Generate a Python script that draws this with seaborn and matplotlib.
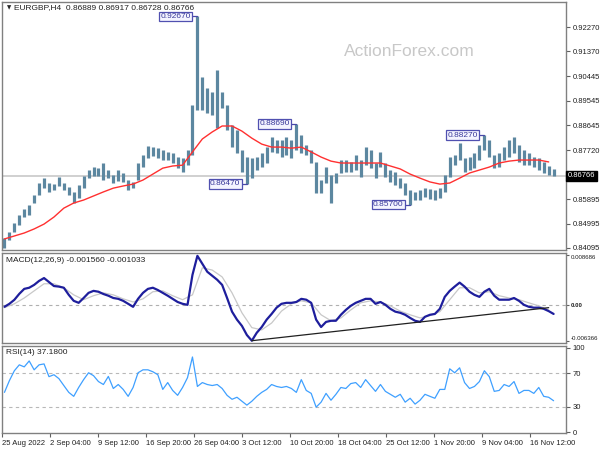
import numpy as np
import pandas as pd
import matplotlib
matplotlib.use('Agg')
import matplotlib.pyplot as plt
import seaborn as sns

# header / last quote
symbol = 'EURGBP,H4'
quote = '0.86889 0.86917 0.86728 0.86766'
last_price = 0.86766

# price bars (high / low)
high = [0.8446, 0.8469, 0.8502, 0.8531, 0.8554, 0.8568, 0.8605, 0.8650, 0.8668, 0.8650,
        0.8646, 0.8672, 0.8650, 0.8635, 0.8617, 0.8642, 0.8676, 0.8698, 0.8709, 0.8705,
        0.8724, 0.8698, 0.8679, 0.8698, 0.8687, 0.8661, 0.8654, 0.8724, 0.8753, 0.8787,
        0.8783, 0.8779, 0.8772, 0.8765, 0.8761, 0.8746, 0.8742, 0.8772, 0.8938, 0.9267,
        0.9042, 0.9001, 0.8987, 0.9068, 0.8987, 0.8938, 0.8864, 0.8846, 0.8772, 0.8746,
        0.8742, 0.8746, 0.8761, 0.8783, 0.8820, 0.8809, 0.8809, 0.8820, 0.8809, 0.8869,
        0.8827, 0.8790, 0.8772, 0.8728, 0.8661, 0.8709, 0.8679, 0.8687, 0.8735, 0.8735,
        0.8728, 0.8753, 0.8735, 0.8783, 0.8772, 0.8724, 0.8765, 0.8724, 0.8698, 0.8691,
        0.8668, 0.8650, 0.8624, 0.8617, 0.8624, 0.8631, 0.8628, 0.8624, 0.8631, 0.8679,
        0.8746, 0.8753, 0.8798, 0.8742, 0.8746, 0.8761, 0.8790, 0.8827, 0.8809, 0.8753,
        0.8761, 0.8783, 0.8809, 0.8820, 0.8790, 0.8772, 0.8761, 0.8746, 0.8742, 0.8728,
        0.8713, 0.8702]
low = [0.8410, 0.8439, 0.8469, 0.8494, 0.8524, 0.8531, 0.8576, 0.8605, 0.8631, 0.8617,
       0.8624, 0.8639, 0.8624, 0.8605, 0.8576, 0.8594, 0.8631, 0.8668, 0.8676, 0.8676,
       0.8661, 0.8668, 0.8650, 0.8657, 0.8654, 0.8624, 0.8631, 0.8661, 0.8709, 0.8742,
       0.8750, 0.8742, 0.8735, 0.8735, 0.8724, 0.8705, 0.8691, 0.8716, 0.8753, 0.8920,
       0.8920, 0.8909, 0.8901, 0.8853, 0.8927, 0.8846, 0.8783, 0.8761, 0.8691, 0.8647,
       0.8668, 0.8698, 0.8709, 0.8724, 0.8765, 0.8761, 0.8746, 0.8753, 0.8742, 0.8772,
       0.8761, 0.8753, 0.8724, 0.8613, 0.8613, 0.8650, 0.8576, 0.8650, 0.8687, 0.8691,
       0.8691, 0.8698, 0.8672, 0.8716, 0.8705, 0.8668, 0.8709, 0.8672, 0.8654, 0.8642,
       0.8631, 0.8605, 0.8570, 0.8587, 0.8587, 0.8598, 0.8591, 0.8587, 0.8594, 0.8617,
       0.8672, 0.8716, 0.8735, 0.8691, 0.8698, 0.8705, 0.8735, 0.8772, 0.8746, 0.8705,
       0.8709, 0.8735, 0.8746, 0.8761, 0.8728, 0.8716, 0.8716, 0.8709, 0.8698, 0.8687,
       0.8679, 0.8676]

# moving average, every second bar
ma = [0.8443, 0.8454, 0.8465, 0.8480, 0.8498, 0.8524, 0.8557, 0.8576, 0.8587, 0.8602,
      0.8617, 0.8631, 0.8639, 0.8646, 0.8661, 0.8683, 0.8705, 0.8713, 0.8716, 0.8765,
      0.8813, 0.8839, 0.8861, 0.8861, 0.8842, 0.8816, 0.8794, 0.8783, 0.8783, 0.8779,
      0.8783, 0.8765, 0.8746, 0.8731, 0.8724, 0.8724, 0.8724, 0.8724, 0.8724, 0.8713,
      0.8702, 0.8683, 0.8668, 0.8654, 0.8646, 0.8650, 0.8668, 0.8687, 0.8698, 0.8709,
      0.8724, 0.8731, 0.8735, 0.8735, 0.8735, 0.8728]

# MACD main line (every bar) and signal (every second bar)
macd = [-0.00035, 0.00018, 0.00088, 0.00193, 0.0028, 0.0030, 0.0035, 0.0042, 0.0047, 0.0040,
        0.0033, 0.0032, 0.0030, 0.00175, 0.0007, 0.00035, 0.0012, 0.0021, 0.00245, 0.0023,
        0.0019, 0.0016, 0.0012, 0.00105, 0.0007, 0.00018, -0.00035, 0.00105, 0.0021, 0.0028,
        0.0030, 0.0026, 0.0021, 0.0016, 0.00105, 0.0005, 0.00018, 0.0, 0.00525, 0.0086,
        0.0072, 0.0058, 0.0051, 0.0044, 0.0035, 0.0012, -0.0012, -0.0026, -0.0037, -0.0053,
        -0.0063, -0.0049, -0.0039, -0.0026, -0.0016, -0.0005, 0.00018, 0.00035, 0.00035, 0.0005,
        0.00105, 0.0009, 0.00035, -0.0026, -0.0039, -0.0030, -0.0028, -0.0028, -0.00175, -0.0009,
        -0.00018, 0.00035, 0.0007, 0.00105, 0.00105, 0.00018, 0.0005, 0.0, -0.0007, -0.0012,
        -0.0014, -0.00175, -0.0023, -0.0028, -0.0030, -0.0021, -0.00175, -0.0016, -0.0007, 0.0014,
        0.00245, 0.0032, 0.0039, 0.0032, 0.0023, 0.00175, 0.0014, 0.0023, 0.0028, 0.0016,
        0.0009, 0.0009, 0.0009, 0.0012, 0.0007, 0.0, -0.00035, -0.0005, -0.0005, -0.0007,
        -0.0011, -0.0016]
signal = [-0.0005, 0.00018, 0.0012, 0.00245, 0.0037, 0.0037, 0.0030, 0.00175, 0.0009, 0.0016,
          0.0021, 0.00175, 0.00105, 0.0005, 0.00105, 0.0023, 0.00245, 0.0016, 0.0009, 0.00175,
          0.0065, 0.0061, 0.0049, 0.0021, -0.0014, -0.0040, -0.0044, -0.0032, -0.0011, 0.00018,
          0.0007, 0.00035, -0.00175, -0.0028, -0.0023, -0.0009, 0.00035, 0.0007, 0.0005, -0.00018,
          -0.0011, -0.00175, -0.0023, -0.0019, -0.0012, 0.0009, 0.0030, 0.0030, 0.0021, 0.0023,
          0.0016, 0.0012, 0.0009, 0.00035, -0.00018, -0.0009]
trend_bars = [50, 110]
trend_vals = [-0.0063, -0.0005]

rsi = [47.1, 61.0, 72.7, 79.7, 77.3, 84.3, 73.8, 79.7, 80.8, 65.7,
       68.0, 63.4, 55.2, 47.1, 42.4, 52.9, 62.2, 70.3, 66.9, 59.9,
       56.4, 66.0, 51.7, 56.4, 50.6, 42.4, 52.9, 70.3, 73.8, 73.8,
       71.5, 68.0, 50.6, 58.7, 49.4, 43.6, 52.9, 64.5, 89.0, 54.1,
       58.7, 56.4, 55.2, 56.4, 51.7, 43.6, 38.9, 41.3, 36.6, 32.0,
       36.6, 42.4, 47.1, 50.6, 56.4, 54.1, 52.9, 54.1, 51.7, 47.1,
       62.2, 49.4, 45.9, 29.6, 35.5, 45.9, 37.8, 44.8, 52.9, 51.7,
       57.5, 58.7, 52.9, 62.2, 55.2, 48.3, 56.4, 48.3, 44.8, 41.3,
       44.8, 35.5, 40.1, 33.2, 37.8, 44.8, 42.4, 40.1, 50.6, 50.6,
       75.0, 70.3, 76.2, 58.7, 51.7, 54.1, 59.9, 72.7, 65.7, 48.3,
       49.4, 56.4, 54.1, 59.9, 45.9, 49.4, 49.4, 45.9, 52.9, 42.4,
       41.3, 37.2]

date_labels = ['25 Aug 2022', '2 Sep 04:00', '9 Sep 12:00', '16 Sep 20:00', '26 Sep 04:00',
               '3 Oct 12:00', '10 Oct 20:00', '18 Oct 04:00', '25 Oct 12:00', '1 Nov 20:00',
               '9 Nov 04:00', '16 Nov 12:00']
price_ticks = [0.92270, 0.91370, 0.90445, 0.89545, 0.88645, 0.87720, 0.85895, 0.84995, 0.84095]
macd_ticks = [0.008686, 0.0, -0.006366]
macd_tick_labels = ['0.008686', '0.00', '-0.006366']
rsi_ticks = [100, 70, 30, 0]

# labelled highs / lows: (bar, price)
marks = [(39, 0.92670), (49, 0.86470), (59, 0.88690), (82, 0.85700), (97, 0.88270)]

df = pd.DataFrame({'bar': np.arange(len(high)), 'high': high, 'low': low,
                   'macd': macd, 'rsi': rsi})
ma_df = pd.DataFrame({'bar': np.arange(len(ma)) * 2, 'ma': ma})
sig_df = pd.DataFrame({'bar': np.arange(len(signal)) * 2, 'signal': signal})

sns.set_theme(style='white')
plt.rcParams['font.family'] = ['Liberation Sans', 'DejaVu Sans']
plt.rcParams['axes.edgecolor'] = '#808080'
plt.rcParams['axes.linewidth'] = 1.0

fig = plt.figure(figsize=(6, 4.5), dpi=100)
ax1 = fig.add_axes([0.0033, 0.4444, 0.94, 0.5512])
ax2 = fig.add_axes([0.0033, 0.2378, 0.94, 0.20])
ax3 = fig.add_axes([0.0033, 0.0378, 0.94, 0.1933])

xmin, xmax = -0.5, len(high) + 1.5
bar_col = '#5c87a0'

# main price panel
ax1.axhline(last_price, color='#c8c8c8', lw=1.2, zorder=1)
ax1.vlines(df['bar'], df['low'], df['high'], color=bar_col, lw=2.3, zorder=2)
sns.lineplot(data=ma_df, x='bar', y='ma', ax=ax1, color='#ff3030', lw=1.0, zorder=3)
for b, p in marks:
    ax1.plot([b - 1.3, b], [p, p], color='#4848a8', lw=0.9, zorder=4)
    ax1.text(b - 1.3, p, f'{p:.5f}', ha='right', va='center', fontsize=6, color='#3a3a9a',
             bbox=dict(boxstyle='square,pad=0.15', fc='#f4f4ff', ec='#5050b0', lw=0.9), zorder=5)
ax1.set_ylim(0.8402, 0.9320)
ax1.set_yticks(price_ticks)
ax1.set_yticklabels([f'{v:.5f}' for v in price_ticks])
ax1.text(1.003, last_price, f'{last_price:.5f}', transform=ax1.get_yaxis_transform(),
         ha='left', va='center', fontsize=5.5, color='white',
         bbox=dict(boxstyle='square,pad=0.2', fc='black', ec='black'))
ax1.text(0.008, 0.976, '\u25bc', transform=ax1.transAxes, fontsize=4, va='center',
         family=['DejaVu Sans'])
ax1.text(0.022, 0.976, f'{symbol}  {quote}', transform=ax1.transAxes, fontsize=6,
         va='center', color='#202020')
ax1.text(0.723, 0.80, 'ActionForex.com', transform=ax1.transAxes, fontsize=12.5,
         color='#c8c8c8', ha='center', va='center')

# MACD panel
ax2.axhline(0, color='#b0b0b0', lw=0.8, ls=(0, (3, 3)))
sns.lineplot(data=sig_df, x='bar', y='signal', ax=ax2, color='#c8c8c8', lw=0.9)
sns.lineplot(data=df, x='bar', y='macd', ax=ax2, color='#1e1e9c', lw=1.6)
ax2.plot(trend_bars, trend_vals, color='#202020', lw=0.9)
ax2.set_ylim(-0.0067, 0.0091)
ax2.set_yticks(macd_ticks)
ax2.set_yticklabels(macd_tick_labels)
ax2.text(0.008, 0.92, 'MACD(12,26,9) -0.001560 -0.001033', transform=ax2.transAxes,
         fontsize=6, va='center', color='#202020')

# RSI panel
for lv in (70, 30):
    ax3.axhline(lv, color='#b8b8b8', lw=0.8, ls=(0, (3, 3)))
sns.lineplot(data=df, x='bar', y='rsi', ax=ax3, color='#3fa0ff', lw=0.9)
ax3.set_ylim(-1, 102)
ax3.set_yticks(rsi_ticks)
ax3.set_yticklabels([str(v) for v in rsi_ticks])
ax3.text(0.008, 0.93, 'RSI(14) 37.1800', transform=ax3.transAxes,
         fontsize=6, va='center', color='#202020')

tick_pos = np.arange(len(date_labels)) * 9.7 - 0.5
for ax in (ax1, ax2, ax3):
    ax.set_xlim(xmin, xmax)
    ax.set_xlabel('')
    ax.set_ylabel('')
    ax.yaxis.tick_right()
    ax.tick_params(axis='y', which='both', right=True, length=3, width=0.8, color='#606060',
                   labelsize=5.5, labelcolor='#202020', pad=2)
    ax.set_xticks(tick_pos)
    for s in ax.spines.values():
        s.set_color('#808080')

ax2.tick_params(axis='y', labelsize=4.4, pad=1, length=2.5)
for lab in ax2.get_yticklabels():
    if lab.get_text() == '0.00':
        lab.set_fontweight('bold')
    elif lab.get_text().startswith('-'):
        lab.set_va('bottom')
    else:
        lab.set_va('top')

ax1.tick_params(axis='x', bottom=False, labelbottom=False)
ax2.tick_params(axis='x', bottom=False, labelbottom=False)
ax3.set_xticklabels(date_labels)
ax3.tick_params(axis='x', bottom=True, length=3, width=0.8, color='#606060',
                labelsize=5.5, labelcolor='#202020', pad=2)
for lab in ax3.get_xticklabels():
    lab.set_ha('left')

fig.savefig('out.png', dpi=100)
